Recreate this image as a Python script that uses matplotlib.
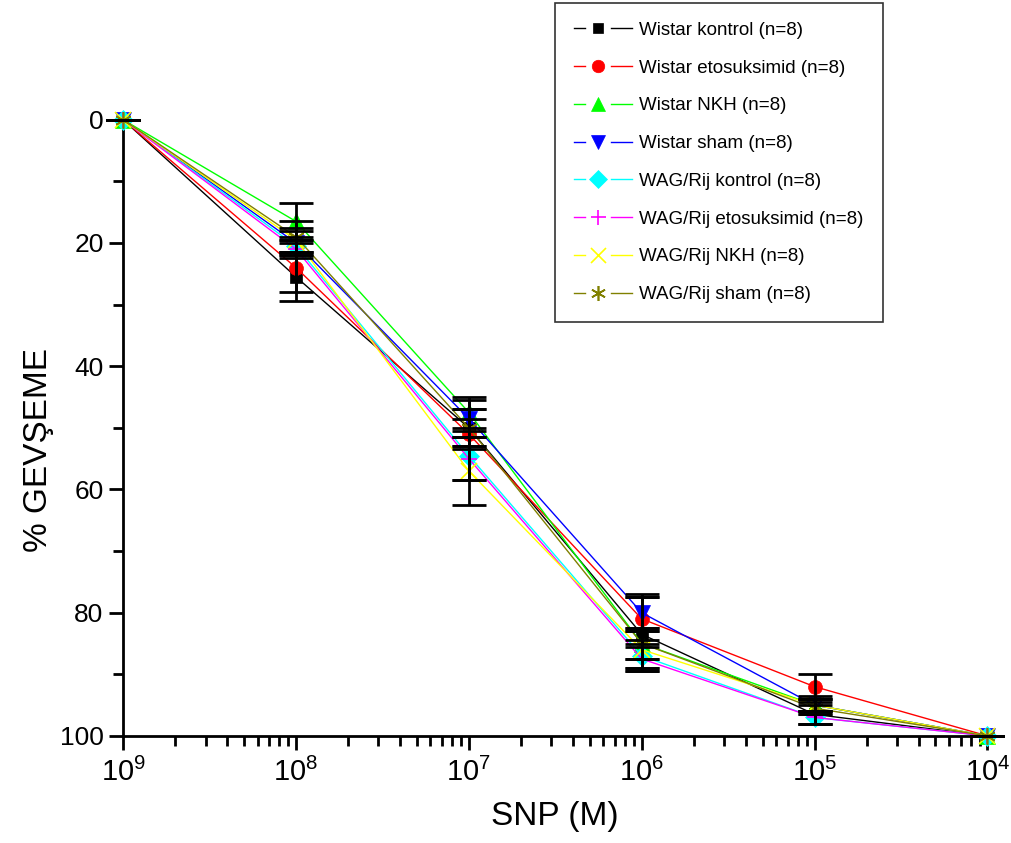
import matplotlib
import numpy as np

matplotlib.use("Agg")
import matplotlib.pyplot as plt  # noqa: E402
from matplotlib.legend_handler import HandlerLine2D  # noqa: E402
from matplotlib.lines import Line2D  # noqa: E402

plt.rcParams["font.family"] = ["Liberation Sans", "DejaVu Sans"]
plt.rcParams["mathtext.fontset"] = "custom"
plt.rcParams["mathtext.rm"] = "Liberation Sans"

# SNP concentration (M)
CONC = [1e-9, 1e-8, 1e-7, 1e-6, 1e-5, 1e-4]
TICK_LABELS = ["$\\mathregular{10^{9}}$", "$\\mathregular{10^{8}}$", "$\\mathregular{10^{7}}$",
               "$\\mathregular{10^{6}}$", "$\\mathregular{10^{5}}$", "$\\mathregular{10^{4}}$"]

GROUPS = ["Wistar kontrol (n=8)", "Wistar etosuksimid (n=8)", "Wistar NKH (n=8)",
          "Wistar sham (n=8)", "WAG/Rij kontrol (n=8)", "WAG/Rij etosuksimid (n=8)",
          "WAG/Rij NKH (n=8)", "WAG/Rij sham (n=8)"]

# % relaxation means and SEM
wistar_kontrol = [0, 25.5, 50.0, 83.5, 96.5, 100]
wistar_kontrol_err = [0, 4.0, 3.0, 6.0, 1.5, 0]
wistar_etosuksimid = [0, 24.0, 51.0, 81.0, 92.0, 100]
wistar_etosuksimid_err = [0, 4.0, 2.5, 3.5, 2.0, 0]
wistar_nkh = [0, 16.5, 47.5, 85.0, 95.0, 100]
wistar_nkh_err = [0, 3.0, 2.5, 2.5, 1.0, 0]
wistar_sham = [0, 20.0, 48.5, 80.0, 95.0, 100]
wistar_sham_err = [0, 2.0, 3.0, 3.0, 1.5, 0]
wag_kontrol = [0, 20.5, 54.5, 87.0, 97.0, 100]
wag_kontrol_err = [0, 1.5, 4.0, 2.0, 1.0, 0]
wag_etosuksimid = [0, 21.0, 55.0, 87.5, 97.0, 100]
wag_etosuksimid_err = [0, 1.5, 3.5, 2.0, 1.0, 0]
wag_nkh = [0, 19.5, 57.0, 86.0, 95.0, 100]
wag_nkh_err = [0, 2.0, 5.5, 3.0, 1.0, 0]
wag_sham = [0, 19.0, 50.0, 85.0, 95.5, 100]
wag_sham_err = [0, 2.5, 3.0, 2.5, 1.0, 0]

MEANS = [wistar_kontrol, wistar_etosuksimid, wistar_nkh, wistar_sham,
         wag_kontrol, wag_etosuksimid, wag_nkh, wag_sham]
ERRS = [wistar_kontrol_err, wistar_etosuksimid_err, wistar_nkh_err, wistar_sham_err,
        wag_kontrol_err, wag_etosuksimid_err, wag_nkh_err, wag_sham_err]

COLORS = ["black", "red", "#00ff00", "blue", "cyan", "magenta", "yellow", "#808000"]
MARKERS = ["s", "o", "^", "v", "D", "+", "x", (6, 2, 0)]
MSIZES = [8, 10, 11, 11, 10, 12, 12, 12]
THIN = ("+", "x")


class GapLineHandler(HandlerLine2D):
    """Legend handle drawn as: short line, marker, short line (with gaps)."""

    def create_artists(self, legend, orig, xdescent, ydescent, width, height, fontsize, trans):
        y = height / 2 - ydescent
        x0 = -xdescent
        left = Line2D([x0, x0 + width * 0.2], [y, y], color=orig.get_color(), lw=1)
        right = Line2D([x0 + width * 0.64, x0 + width], [y, y], color=orig.get_color(), lw=1)
        mk = Line2D([x0 + width * 0.42], [y], linestyle="none", marker=orig.get_marker(),
                    markersize=orig.get_markersize() * 0.9,
                    markerfacecolor=orig.get_markerfacecolor(),
                    markeredgecolor=orig.get_markeredgecolor(),
                    markeredgewidth=orig.get_markeredgewidth())
        for a in (left, right, mk):
            a.set_transform(trans)
        return [left, right, mk]


fig = plt.figure(figsize=(10.11, 8.43), dpi=100)
ax = fig.add_axes([0.1217, 0.127, 0.855, 0.731])

handles = []
for name, y, e, c, m, ms in zip(GROUPS, MEANS, ERRS, COLORS, MARKERS, MSIZES):
    ax.errorbar(CONC, y, yerr=e, fmt="none", ecolor="black", elinewidth=2,
                capsize=12, capthick=2, zorder=4, clip_on=False)
    thin = isinstance(m, tuple) or m in THIN
    h, = ax.plot(CONC, y, color=c, lw=1, marker=m, markersize=ms,
                 markeredgewidth=1.2 if thin else 0.5,
                 markeredgecolor=c, markerfacecolor=c, zorder=3, clip_on=False,
                 label=name)
    handles.append(h)

ax.set_xscale("log")
ax.set_xlim(1e-9, 1e-4)
ax.set_ylim(100, 0)
ax.set_xticks(CONC)
ax.set_xticklabels(TICK_LABELS)
ax.set_yticks([0, 20, 40, 60, 80, 100])
ax.set_yticks([10, 30, 50, 70, 90], minor=True)

for side in ("top", "right"):
    ax.spines[side].set_visible(False)
for side in ("left", "bottom"):
    ax.spines[side].set_linewidth(2)

ax.tick_params(axis="both", which="major", length=10, width=2, labelsize=19, direction="out")
ax.tick_params(axis="both", which="minor", length=7, width=2, direction="out")
ax.tick_params(axis="x", which="major", pad=6, labelsize=21)
ax.tick_params(axis="y", which="major", pad=4)
ax.tick_params(axis="x", which="minor", labelbottom=False)

ax.set_xlabel("SNP (M)", fontsize=24, labelpad=10)
ax.set_ylabel("% GEVŞEME", fontsize=24)
ax.yaxis.set_label_coords(-0.08, 0.464)

leg = fig.legend(handles=handles, loc="upper left", bbox_to_anchor=(555 / 1011, 1 - 3 / 843),
                 fontsize=13.5, frameon=True, fancybox=False, edgecolor="black",
                 labelspacing=1.1, borderpad=1.0, handlelength=3.1, handletextpad=0.4,
                 borderaxespad=0, handler_map={Line2D: GapLineHandler()})
leg.get_frame().set_linewidth(1.2)

fig.savefig("out.png", dpi=100)
